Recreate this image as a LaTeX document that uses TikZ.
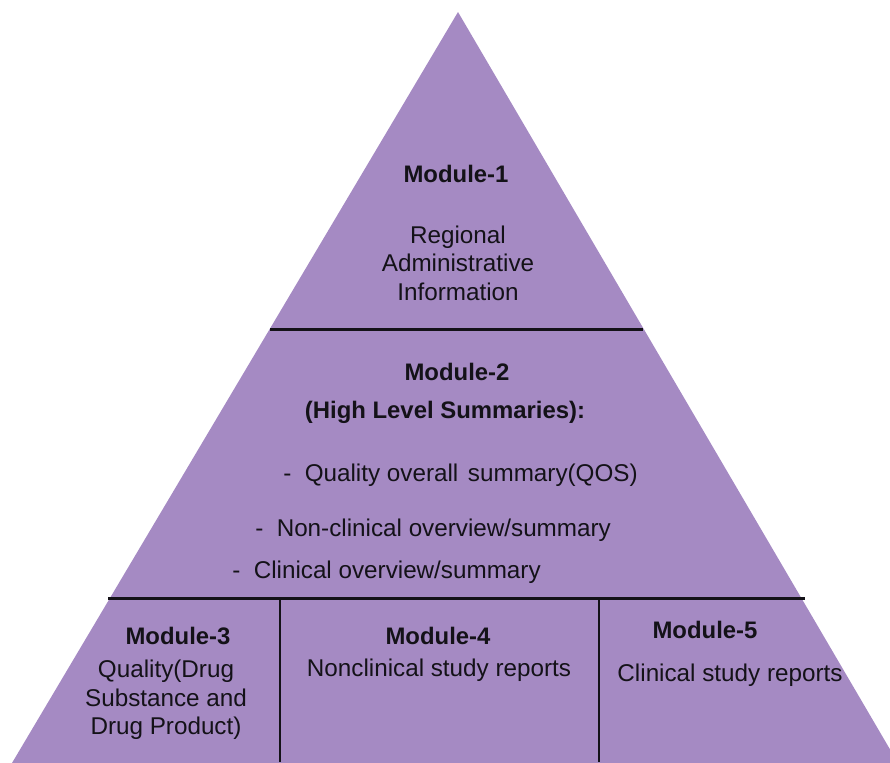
\documentclass[tikz,border=0pt]{standalone}
\usepackage{fontspec}
\setmainfont{Liberation Sans}
\definecolor{pyramid}{RGB}{165,138,195}
\definecolor{ink}{RGB}{20,18,24}
\begin{document}
\begin{tikzpicture}[x=0.02cm,y=-0.02cm,
  title/.style={font=\fontsize{13.6}{16}\selectfont\bfseries, text=ink, inner sep=0pt},
  body/.style={font=\fontsize{13.8}{16.2}\selectfont, text=ink, inner sep=0pt, align=center},
  divider/.style={line width=1.7pt, draw=ink}]
\useasboundingbox (0,0) rectangle (890,762);
\begin{scope}
  \clip (0,0) rectangle (890,762);
  % pyramid body
  \fill[pyramid] (458,12) -- (898,763) -- (12,763) -- cycle;
\end{scope}
% tier dividers
\draw[divider] (270,329) -- (643,329);
\draw[divider] (108,598) -- (805,598);
\draw[divider] (280,598) -- (280,762);
\draw[divider] (599,598) -- (599,762);

% Module 1
\node[title] (m1) at (456,174) {Module-1};
\node[body] (m1t) at (458,263) {Regional\\Administrative\\Information};

% Module 2
\node[title] (m2) at (457,372) {Module-2};
\node[title] (m2s) at (445,412) {(High Level Summaries):};
\node[body, anchor=west] (q1) at (283,475) {-\hspace{0.55em}Quality overall\hspace{0.12em} summary(QOS)};
\node[body, anchor=west] (q2) at (255,530) {-\hspace{0.55em}Non-clinical overview/summary};
\node[body, anchor=west] (q3) at (232,572) {-\hspace{0.55em}Clinical overview/summary};

% Module 3
\node[title] (m3) at (178,636) {Module-3};
\node[body] (m3t) at (166,700) {Quality(Drug\\Substance and\\Drug Product)};

% Module 4
\node[title] (m4) at (438,636) {Module-4};
\node[body] (m4t) at (439,670) {Nonclinical study reports};

% Module 5
\node[title] (m5) at (705,630) {Module-5};
\node[body] (m5t) at (730,675) {Clinical study reports};
\end{tikzpicture}
\end{document}
